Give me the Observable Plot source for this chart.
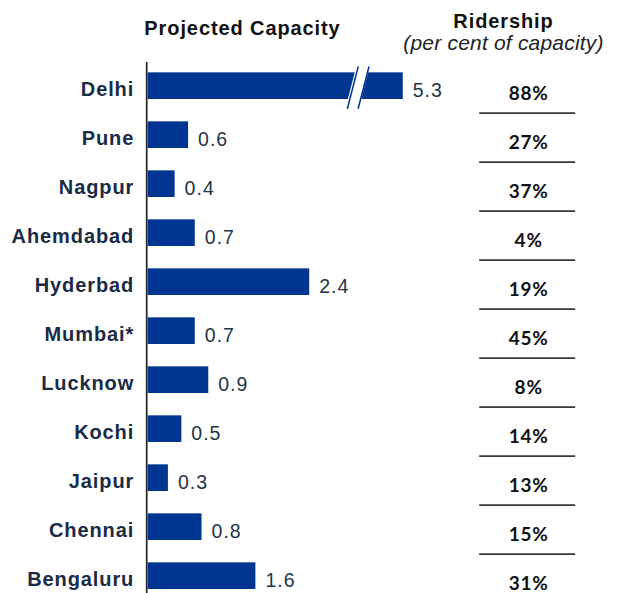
<!DOCTYPE html>
<html>
<head>
<meta charset="utf-8">
<script src="https://cdn.jsdelivr.net/npm/d3@7"></script>
<script src="https://cdn.jsdelivr.net/npm/@observablehq/plot@0.6"></script>
<style>
  html, body { margin: 0; padding: 0; background: #fff; }
  #chart svg { display: block; }
</style>
</head>
<body>
<div id="chart"></div>
<script>
// ---- data ----
const cities = ["Delhi", "Pune", "Nagpur", "Ahemdabad", "Hyderbad", "Mumbai*", "Lucknow", "Kochi", "Jaipur", "Chennai", "Bengaluru"];
const capacity = [5.3, 0.6, 0.4, 0.7, 2.4, 0.7, 0.9, 0.5, 0.3, 0.8, 1.6];
const ridership = [88, 27, 37, 4, 19, 45, 8, 14, 13, 15, 31];
const capacityTitle = "Projected Capacity";
const ridershipTitle = "Ridership";
const ridershipSubtitle = "(per cent of capacity)";

// ---- axis break (scale units) ----
const breakCap = 3.79;     // bars longer than this are cut off here
const breakAt = 3.12;      // centre of the break marks
const breakGap = 0.16;     // distance between the two slashes
const breakSlant = 0.079;  // half horizontal slant of a slash
const ridershipCol = 5.654;  // x position of ridership column
const ridershipRule = [4.926, 6.352];

const rows = cities.map((c, i) => ({
  i, city: c, value: capacity[i], shown: Math.min(capacity[i], breakCap),
  ridership: ridership[i] + "%"
}));
const broken = rows.filter(d => d.value > breakCap);
const slashTop = -0.39, slashBottom = 0.45;
const slashes = [];
const whiteBand = [];
for (const d of broken) {
  for (const s of [-1, 1]) {
    const c = breakAt + s * breakGap / 2;
    slashes.push({k: d.i + "" + s, x: c + breakSlant, y: d.i + slashTop});
    slashes.push({k: d.i + "" + s, x: c - breakSlant, y: d.i + slashBottom});
  }
  const l = breakAt - breakGap / 2 - 0.02, r = breakAt + breakGap / 2 + 0.02;
  whiteBand.push({y: d.i + slashTop, x1: l + breakSlant, x2: r + breakSlant});
  whiteBand.push({y: d.i + slashBottom, x1: l - breakSlant, x2: r - breakSlant});
}
const separators = d3.range(cities.length - 1).map(i => i + 0.551);

const barColor = "#003591";
const labelFont = "'Liberation Sans', Arial, sans-serif";

const plot = Plot.plot({
  width: 624,
  height: 593,
  marginTop: 62,
  marginBottom: 0,
  marginLeft: 147.7,
  marginRight: 5.2,
  x: {domain: [0, 7], axis: null},
  y: {domain: [-0.483, 10.354], reverse: true, axis: null},
  style: {fontFamily: labelFont, background: "white"},
  marks: [
    Plot.rectX(rows, {x1: 0, x2: "shown", y1: d => d.i - 0.272, y2: d => d.i + 0.272, fill: barColor}),
    Plot.areaX(whiteBand, {y: "y", x1: "x1", x2: "x2", fill: "white"}),
    Plot.line(slashes, {x: "x", y: "y", z: "k", stroke: barColor, strokeWidth: 1.5}),
    Plot.ruleX([0], {stroke: "#222", strokeWidth: 1.7, dx: -1.5}),
    // city labels
    Plot.text(rows, {x: 0, y: "i", text: "city", textAnchor: "end", lineAnchor: "bottom",
      dx: -14, dy: 10, fontSize: 20, fontWeight: "bold", fill: "#1a2b45"}),
    // value labels
    Plot.text(rows, {x: "shown", y: "i", text: d => d.value.toFixed(1), textAnchor: "start", lineAnchor: "bottom",
      dx: 9.5, dy: 11, fontSize: 19.5, fill: "#243447"}),
    // ridership column
    Plot.ruleY(separators, {x1: ridershipRule[0], x2: ridershipRule[1], stroke: "#3a3a3a", strokeWidth: 1.6}),
    Plot.text(rows, {x: ridershipCol, y: "i", text: "ridership", textAnchor: "middle", lineAnchor: "bottom",
      dy: 14, fontSize: 19, fontWeight: "bold", fontFamily: "Lato, 'Open Sans', sans-serif", fill: "#111"}),
    // titles
    Plot.text([capacityTitle], {frameAnchor: "top-left", dx: 242 - 147.7, dy: 34.3 - 62, text: d => d,
      textAnchor: "middle", lineAnchor: "bottom", fontSize: 20, fontWeight: "bold", fill: "#111"}),
    Plot.text([ridershipTitle], {frameAnchor: "top-left", dx: 503 - 147.7, dy: 27.7 - 62, text: d => d,
      textAnchor: "middle", lineAnchor: "bottom", fontSize: 20, fontWeight: "bold", fill: "#111"}),
    Plot.text([ridershipSubtitle], {frameAnchor: "top-left", dx: 503 - 147.7, dy: 49.5 - 62, text: d => d,
      textAnchor: "middle", lineAnchor: "bottom", fontSize: 21, fontStyle: "italic", fill: "#222"})
  ]
});
// the reference text is slightly wider than the fonts: widen with letter spacing
const spacing = ["0.9px", "1px", "0.8px", "0.9px", "0.9px", "0.2px"];
d3.select(plot).selectAll('g[aria-label="text"]').each(function (_, k) {
  this.setAttribute("letter-spacing", spacing[k] || "0");
});
document.getElementById("chart").appendChild(plot);
</script>
</body>
</html>
